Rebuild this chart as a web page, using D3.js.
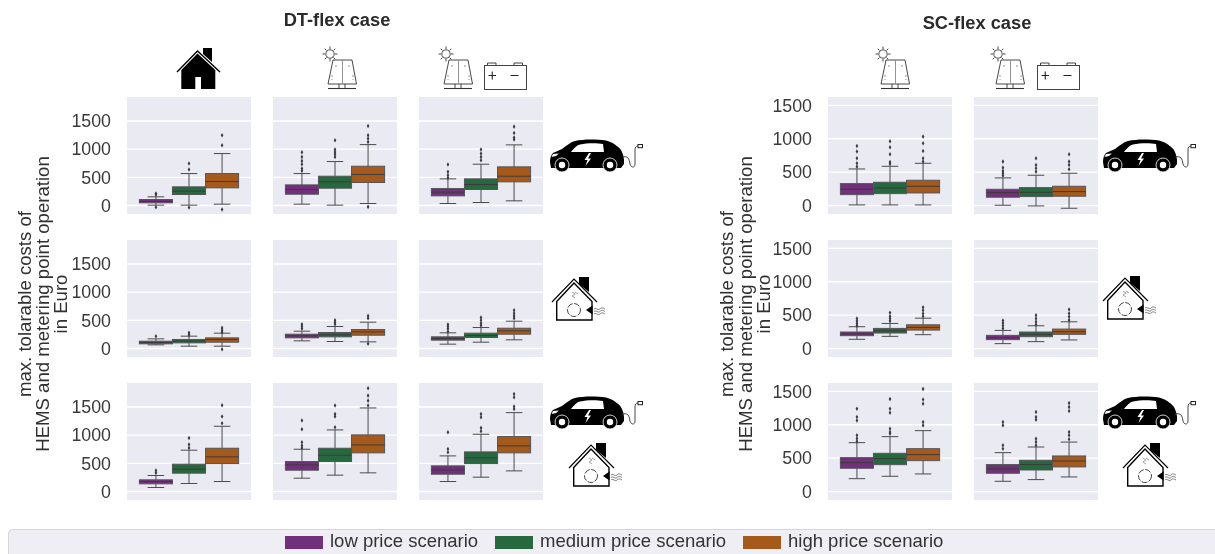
<!DOCTYPE html>
<html><head><meta charset="utf-8">
<script src="https://cdn.jsdelivr.net/npm/d3@7/dist/d3.min.js"></script>
<style>html,body{margin:0;padding:0;background:#fff}svg{display:block;filter:blur(0.4px)}text{font-family:"Liberation Sans",Arial,sans-serif}</style>
</head><body><div id="chart"></div>
<script>
// ---- data, one row per panel: [low, medium, high] ----
const scenarios = ["low price scenario", "medium price scenario", "high price scenario"];
const colors = ["#71307a", "#27693f", "#a55a1c"];
const panelNames = ["DT-r1-c1","DT-r1-c2","DT-r1-c3","DT-r2-c1","DT-r2-c2","DT-r2-c3","DT-r3-c1","DT-r3-c2","DT-r3-c3",
                    "SC-r1-c1","SC-r1-c2","SC-r2-c1","SC-r2-c2","SC-r3-c1","SC-r3-c2"];
const whiskerLow = [[6,6,24],[24,6,35],[35,53,83],[65,41,41],[136,124,118],[77,112,154],[71,142,177],[236,290,331],[177,254,366],
                    [10,10,10],[5,-5,-40],[139,183,208],[74,104,129],[193,229,264],[154,179,219]];
const q1 = [[47,195,313],[200,307,408],[171,284,420],[83,100,112],[189,207,236],[148,195,254],[136,325,496],[378,532,686],[307,496,686],
            [164,179,189],[125,135,140],[193,233,277],[134,178,213],[349,403,463],[274,323,369]];
const median = [[71,254,425],[284,420,550],[236,372,520],[106,130,160],[225,242,295],[177,230,313],[177,396,615],[473,644,827],[384,597,810],
                [244,264,289],[194,199,209],[218,267,317],[163,213,252],[433,493,553],[339,404,458]];
const q3 = [[106,331,567],[366,520,697],[301,473,686],[130,160,189],[254,284,337],[207,272,360],[207,485,768],[532,768,1005],[455,703,975],
            [329,349,379],[244,269,289],[248,302,356],[198,248,292],[508,573,642],[404,468,533]];
const whiskerHigh = [[154,567,922],[567,780,1081],[473,733,1076],[171,219,272],[307,390,467],[278,372,485],[284,733,1158],[750,1093,1483],[632,1016,1400],
                     [548,588,633],[414,454,484],[327,376,455],[272,342,401],[732,822,912],[583,667,741]];
const outliers = [
 [[212,190,-30],[745,640,-35],[1247,1070,-70]],
 [[945,863,792,733,656,615],[1158,993,950,910,863],[1412,1247,1188,1129,-24]],
 [[727,597,538,490],[993,922,863,804],[1400,1288,1205,1170]],
 [[219],[278,242],[366,325,290,-12]],
 [[431,390,350],[502,467,431],[579,538,83]],
 [[425,390,350,300],[550,502,449,408],[680,626,579,538]],
 [[372,331],[951,833,774],[1530,1330,1211]],
 [[1259,1105,875,816,774],[1525,1377,1330,1140],[1832,1702,1613,1525]],
 [[1052,756,697],[1377,1318,1129,1070],[1731,1672,1507,1465]],
 [[892,808,708,633,583],[962,872,768,653,623],[1032,932,817,708,658]],
 [[658,568,518,483,448],[708,608,558,508],[768,658,608,543]],
 [[450,411,376,342],[535,485,450,411],[619,574,525,485]],
 [[421,381,342,302],[500,450,401,361],[584,525,475,426]],
 [[1240,1115,1065,843,793,753],[1384,1240,1180,941,892,867],[1537,1379,1314,1040,991]],
 [[1040,991,692,642],[1190,1115,1075,791,741,692],[1324,1264,1205,891,842,782]]
];
const tickValues = [0, 500, 1000, 1500];
const titles = ["DT-flex case", "SC-flex case"];
const yLabelLines = ["max. tolarable costs of", "HEMS and metering point operation", "in Euro"];

// ---- layout ----
const W = 1215, H = 554, pw = 124, ph = 117;
const rowTop = [97, 240, 383];
const dtCols = [127, 273, 419], scCols = [828, 974];
const layout = [];
[0,1,2].forEach(r => dtCols.forEach(x => layout.push({x, y: rowTop[r], dom: [-151, 1926], first: x === dtCols[0]})));
[0,1,2].forEach(r => scCols.forEach(x => layout.push({x, y: rowTop[r], dom: [-126, 1625], first: x === scCols[0]})));

const svg = d3.select("#chart").append("svg").attr("width", W).attr("height", H);
const line = "#4b4b4e";

const band = d3.scaleBand().domain(d3.range(3)).range([pw * 0.1, pw * 0.9]).padding(0);

layout.forEach((p, i) => {
  const g = svg.append("g").attr("transform", `translate(${p.x},${p.y})`);
  const y = d3.scaleLinear().domain(p.dom).range([ph, 0]);
  g.append("rect").attr("width", pw).attr("height", ph).attr("fill", "#eaeaf2");
  g.selectAll("line.grid").data(tickValues).join("line").attr("class", "grid")
    .attr("x1", 0).attr("x2", pw).attr("y1", d => y(d)).attr("y2", d => y(d))
    .attr("stroke", "#fff").attr("stroke-width", 1.3);
  if (p.first) {
    const ax = g.append("g").call(d3.axisLeft(y).tickValues(tickValues).tickSize(0).tickPadding(16).tickFormat(d3.format("d")));
    ax.select(".domain").remove();
    ax.selectAll("text").attr("font-size", 17.8).attr("fill", "#3a3a3a").style("font-family", '"Liberation Sans",Arial,sans-serif');
  }
  d3.range(3).forEach(s => {
    const bx = band(s), bw = band.bandwidth(), cx = bx + bw / 2, cap = bw / 4;
    const b = g.append("g");
    b.append("line").attr("x1", cx).attr("x2", cx).attr("y1", y(whiskerLow[i][s])).attr("y2", y(q1[i][s])).attr("stroke", line);
    b.append("line").attr("x1", cx).attr("x2", cx).attr("y1", y(q3[i][s])).attr("y2", y(whiskerHigh[i][s])).attr("stroke", line);
    [whiskerLow[i][s], whiskerHigh[i][s]].forEach(v =>
      b.append("line").attr("x1", cx - cap).attr("x2", cx + cap).attr("y1", y(v)).attr("y2", y(v)).attr("stroke", line));
    b.append("rect").attr("x", bx).attr("width", bw).attr("y", y(q3[i][s])).attr("height", y(q1[i][s]) - y(q3[i][s]))
      .attr("fill", colors[s]).attr("stroke", "#55555a").attr("stroke-width", 1);
    b.append("line").attr("x1", bx).attr("x2", bx + bw).attr("y1", y(median[i][s])).attr("y2", y(median[i][s])).attr("stroke", "#3d3a3a");
    b.selectAll("path").data(outliers[i][s]).join("path")
      .attr("d", d3.symbol(d3.symbolDiamond, 6))
      .attr("transform", d => `translate(${cx},${y(d)})`).attr("fill", "#3a3a40");
  });
});

// titles
[[337, 26, titles[0]], [977, 29, titles[1]]].forEach(t =>
  svg.append("text").attr("x", t[0]).attr("y", t[1]).attr("text-anchor", "middle")
    .attr("font-size", 18.3).attr("font-weight", "bold").attr("fill", "#2b2b2b").text(t[2]));

// y labels
[[31, 49, 67], [733, 752, 770]].forEach(xs => yLabelLines.forEach((l, k) =>
  svg.append("text").attr("transform", `translate(${xs[k]},304) rotate(-90)`).attr("text-anchor", "middle")
    .attr("font-size", 18.6).attr("fill", "#303030").text(l)));

// legend
svg.append("rect").attr("x", 8.5).attr("y", 529.5).attr("width", 1230).attr("height", 40).attr("rx", 4)
  .attr("fill", "#eeeef4").attr("stroke", "#d6d6d8");
[285, 495, 743].forEach((x, i) => {
  svg.append("rect").attr("x", x).attr("y", 536).attr("width", 38).attr("height", 13).attr("fill", colors[i]);
  svg.append("text").attr("x", x + 45).attr("y", 547).attr("font-size", 18.5).attr("fill", "#333").text(scenarios[i]);
});

// ---- icons ----
function house(x, y) {
  const g = svg.append("g").attr("transform", `translate(${x},${y})`);
  g.append("path").attr("d", "M26 0H35V14L26 6Z").attr("fill", "#000");
  g.append("path").attr("d", "M4.3 22L20.5 5.5L38.3 22V41H24V29H18.3V41H4.3Z").attr("fill", "#000");
  g.append("path").attr("d", "M0 24L20.5 3L43 24").attr("fill", "none").attr("stroke", "#000").attr("stroke-width", 1.4);
}
function pv(x, y) {
  const g = svg.append("g").attr("transform", `translate(${x},${y})`).attr("fill", "none").attr("stroke", "#333").attr("stroke-width", 0.9);
  g.append("circle").attr("cx", 6).attr("cy", 9).attr("r", 4.2);
  d3.range(8).forEach(k => { const a = k * Math.PI / 4;
    g.append("line").attr("x1", 6 + 5 * Math.cos(a)).attr("y1", 9 + 5 * Math.sin(a)).attr("x2", 6 + 7.5 * Math.cos(a)).attr("y2", 9 + 7.5 * Math.sin(a)); });
  g.append("path").attr("d", "M9 15H28L32.5 39H4Z");
  g.append("path").attr("d", "M18.5 15V39").attr("stroke", "#888");
  g.append("path").attr("d", "M12 20V24M8 30V35M25 20V24M29 30V35").attr("stroke", "#888").attr("stroke-dasharray", "2 2");
  g.append("path").attr("d", "M15 39V43.5M21 39V43.5");
  g.append("path").attr("d", "M4 43.5H32").attr("stroke-width", 1.1);
}
function battery(x, y) {
  const g = svg.append("g").attr("transform", `translate(${x},${y})`).attr("fill", "none").attr("stroke", "#444").attr("stroke-width", 1);
  g.append("rect").attr("x", 0.5).attr("y", 2.5).attr("width", 42).attr("height", 24);
  g.append("path").attr("d", "M3.5 2.5V0H12V2.5M30 2.5V0H38.5V2.5");
  g.append("path").attr("d", "M4.5 12.5H12M8.25 8.5V16.5M26.5 12.5H34.5").attr("stroke", "#222").attr("stroke-width", 1.1);
}
function car(x, y) {
  const g = svg.append("g").attr("transform", `translate(${x},${y})`);
  g.append("path").attr("d", "M0 22C0 18 1 15 3 13L12 9C17 5 21 2 25 1C33 -1 46 -1 56 0.5C62 2 68 6 71 10C73 14 74.5 18 74 24L71 28H1Z").attr("fill", "#000");
  g.append("path").attr("d", "M21 12C24 8 27 5 30 4.5C37 3 47 3 53 4L54 12Z").attr("fill", "#fff");
  g.append("path").attr("d", "M39 13L34.5 20H37.5L35.5 26L41 18.5H38L41 13Z").attr("fill", "#fff");
  g.append("path").attr("d", "M3 14L1.5 17L6 16L9 13.5Z").attr("fill", "#fff");
  [12, 60].forEach(cx => {
    g.append("circle").attr("cx", cx).attr("cy", 25).attr("r", 7).attr("fill", "#000").attr("stroke", "#fff").attr("stroke-width", 0.8);
    g.append("circle").attr("cx", cx).attr("cy", 25).attr("r", 3.2).attr("fill", "#fff");
  });
  g.append("path").attr("d", "M72 17C78 16 79 18 80 24C81 28 85 28 85 24V10C85 7 86 6 88 6").attr("fill", "none").attr("stroke", "#333").attr("stroke-width", 0.9);
  g.append("rect").attr("x", 88).attr("y", 4.5).attr("width", 4.5).attr("height", 3.2).attr("fill", "none").attr("stroke", "#222").attr("stroke-width", 1);
}
function heatHouse(x, y) {
  const g = svg.append("g").attr("transform", `translate(${x},${y})`).attr("fill", "none");
  g.append("path").attr("d", "M27 0H37V15L27 7Z").attr("fill", "#000");
  g.append("path").attr("d", "M0 25L22 2L45 25").attr("stroke", "#000").attr("stroke-width", 1.2);
  g.append("path").attr("d", "M4.7 24.5L22 6L40 24.5V43H4.7Z").attr("stroke", "#000").attr("stroke-width", 1.4);
  g.append("path").attr("d", "M40.5 28.5L34 33L40.5 37.5Z").attr("fill", "#000");
  g.append("circle").attr("cx", 22).attr("cy", 33).attr("r", 6.5).attr("stroke", "#333").attr("stroke-width", 0.9).attr("stroke-dasharray", "6 1.5");
  g.append("path").attr("d", "M20 15L23 17L20 19L23 21M23 15L26 17").attr("stroke", "#888").attr("stroke-width", 0.8);
  g.append("path").attr("d", "M42 32C44 30 46 34 48 32S51 31 53 32M42 34.5C44 32.5 46 36.5 48 34.5S51 33.5 53 34.5M42 37C44 35 46 39 48 37S51 36 53 37").attr("stroke", "#444").attr("stroke-width", 0.7);
}
house(177, 48);
pv(324, 45); pv(440, 45); battery(484, 63);
pv(877, 45); pv(992, 45); battery(1037, 63);
[[550, 140], [550, 397], [1103, 140], [1103, 397]].forEach(c => car(c[0], c[1]));
[[552, 277], [569, 443], [1103, 276], [1123, 443]].forEach(c => heatHouse(c[0], c[1]));
</script></body></html>
